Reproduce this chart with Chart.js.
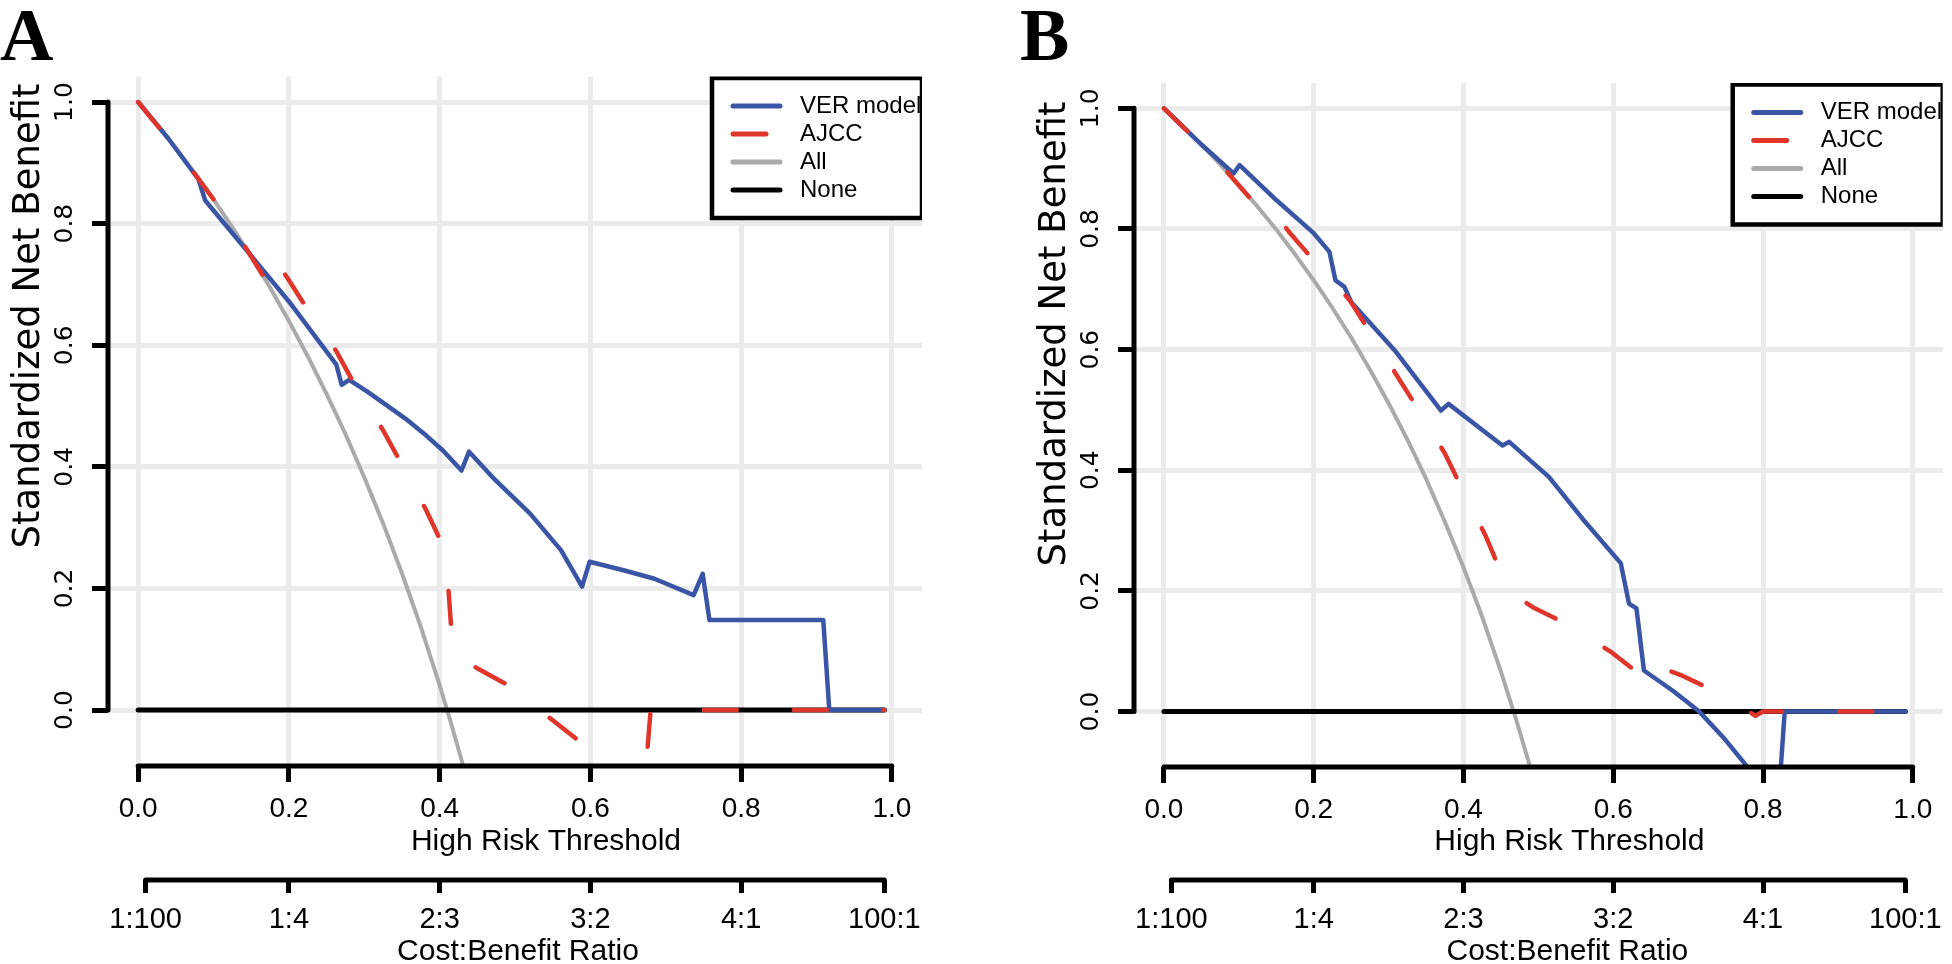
<!DOCTYPE html>
<html>
<head>
<meta charset="utf-8">
<title>Decision curves - VER model vs AJCC</title>
<script src="https://cdn.jsdelivr.net/npm/chart.js@4.4.1/dist/chart.umd.min.js"></script>
<style>
  body { margin: 0; background: #fff; }
  #wrap { position: relative; width: 1952px; height: 964px; }
  canvas { position: absolute; top: 0; }
  #chartA { left: 0; }
  #chartB { left: 976px; }
</style>
</head>
<body>
<div id="wrap">
  <canvas id="chartA" width="976" height="964"></canvas>
  <canvas id="chartB" width="976" height="964"></canvas>
</div>
<script>
// Panel A
const verA_t   = [0, 0.04, 0.08, 0.089, 0.14, 0.2, 0.263, 0.27, 0.28, 0.305, 0.329, 0.355, 0.379, 0.405, 0.429, 0.439, 0.474, 0.52, 0.561, 0.589, 0.599, 0.644, 0.685, 0.737, 0.749, 0.758, 0.909, 0.917, 0.99];
const verA_nb  = [1, 0.94, 0.873, 0.838, 0.762, 0.672, 0.568, 0.535, 0.543, 0.523, 0.502, 0.479, 0.455, 0.426, 0.394, 0.425, 0.378, 0.323, 0.263, 0.203, 0.244, 0.230, 0.216, 0.189, 0.224, 0.148, 0.148, 0, 0];
const ajccA_t  = [0, 0.05, 0.1, 0.143, 0.168, 0.183, 0.19, 0.199, 0.222, 0.263, 0.286, 0.325, 0.348, 0.382, 0.403, 0.408, 0.418, 0.454, 0.495, 0.547, 0.586, 0.62, 0.65, 0.67, 0.68, 0.99];
const ajccA_nb = [1, 0.924, 0.84, 0.76, 0.71, 0.683, 0.725, 0.709, 0.664, 0.59, 0.538, 0.46, 0.408, 0.329, 0.274, 0.262, 0.09, 0.066, 0.038, -0.014, -0.052, -0.09, -0.125, -0.15, 0, 0];
const allA_t   = [0, 0.025, 0.05, 0.075, 0.1, 0.125, 0.15, 0.175, 0.2, 0.225, 0.25, 0.275, 0.3, 0.325, 0.35, 0.375, 0.4, 0.415, 0.435];
const allA_nb  = [1, 0.963, 0.924, 0.883, 0.84, 0.794, 0.746, 0.695, 0.64, 0.582, 0.52, 0.454, 0.383, 0.307, 0.225, 0.137, 0.041, -0.021, -0.108];

// Panel B
const verB_t   = [0, 0.05, 0.093, 0.101, 0.15, 0.2, 0.221, 0.229, 0.241, 0.25, 0.308, 0.37, 0.38, 0.452, 0.461, 0.514, 0.56, 0.61, 0.621, 0.631, 0.641, 0.68, 0.714, 0.747, 0.78, 0.8, 0.82, 0.829, 0.99];
const verB_nb  = [1, 0.94, 0.892, 0.906, 0.848, 0.793, 0.762, 0.715, 0.704, 0.679, 0.599, 0.499, 0.51, 0.441, 0.447, 0.389, 0.318, 0.246, 0.179, 0.171, 0.068, 0.034, 0.001, -0.043, -0.093, -0.125, -0.16, 0, 0];
const ajccB_t  = [0, 0.05, 0.084, 0.117, 0.13, 0.14, 0.167, 0.2, 0.248, 0.275, 0.312, 0.339, 0.375, 0.394, 0.43, 0.449, 0.46, 0.4925, 0.536, 0.598, 0.635, 0.655, 0.665, 0.693, 0.737, 0.79, 0.8, 0.99];
const ajccB_nb = [1, 0.94, 0.895, 0.848, 0.83, 0.84, 0.795, 0.748, 0.682, 0.629, 0.555, 0.502, 0.428, 0.38, 0.29, 0.234, 0.2, 0.173, 0.146, 0.098, 0.062, 0.045, 0.072, 0.059, 0.033, -0.007, 0, 0];
const allB_t   = [0, 0.025, 0.05, 0.075, 0.1, 0.125, 0.15, 0.175, 0.2, 0.225, 0.25, 0.275, 0.3, 0.325, 0.35, 0.375, 0.4, 0.425, 0.45, 0.47, 0.49];
const allB_nb  = [1, 0.971, 0.94, 0.907, 0.873, 0.837, 0.799, 0.758, 0.715, 0.669, 0.62, 0.567, 0.511, 0.451, 0.386, 0.315, 0.239, 0.157, 0.066, -0.012, -0.096];

const none_t  = [0, 0.99];
const none_nb = [0, 0];

const thresholdTicks = [0, 0.2, 0.4, 0.6, 0.8, 1.0];
const benefitTicks   = [0, 0.2, 0.4, 0.6, 0.8, 1.0];
const ratioTicks     = [0.0099, 0.2, 0.4, 0.6, 0.8, 0.99];
const ratioLabels    = ['1:100', '1:4', '2:3', '3:2', '4:1', '100:1'];

const BLUE = '#3a55a5';
const RED = '#e0352b';
const GREY = '#aaaaaa';
const GRID = '#ebebeb';

Chart.defaults.font.family = '"Liberation Sans", Arial, sans-serif';
Chart.defaults.color = '#000';

const pts = (t, nb) => t.map((v, i) => ({ x: v, y: nb[i] }));

function seg(ctx, x1, y1, x2, y2) {
  ctx.beginPath();
  ctx.moveTo(x1, y1);
  ctx.lineTo(x2, y2);
  ctx.stroke();
}

// base-R look: partial axis lines, titles, boxed legend, panel letter
const rDecor = {
  id: 'rDecor',
  afterDraw(chart, args, o) {
    const { ctx, chartArea: a, scales: { x, x2, y } } = chart;
    ctx.save();
    ctx.strokeStyle = '#000';
    ctx.lineWidth = 5;
    ctx.lineCap = 'round';
    seg(ctx, a.left, y.getPixelForValue(0), a.left, y.getPixelForValue(1));
    seg(ctx, x.getPixelForValue(0), a.bottom, x.getPixelForValue(1), a.bottom);
    seg(ctx, x2.getPixelForValue(ratioTicks[0]), x2.top, x2.getPixelForValue(ratioTicks[ratioTicks.length - 1]), x2.top);

    ctx.fillStyle = '#000';
    ctx.textAlign = 'center';
    ctx.textBaseline = 'alphabetic';
    ctx.font = '30px "Liberation Sans"';
    ctx.fillText('High Risk Threshold', x.getPixelForValue(0.5) + o.xShift, 850);
    ctx.fillText('Cost:Benefit Ratio', x.getPixelForValue(0.5) + o.x2Shift, 960);

    ctx.save();
    ctx.translate(a.left - 79, o.yTitleY);
    ctx.rotate(-Math.PI / 2);
    ctx.textBaseline = 'middle';
    ctx.font = '37px "DejaVu Sans"';
    ctx.fillText('Standardized Net Benefit', 0, 0);
    ctx.restore();

    ctx.textAlign = 'left';
    ctx.font = 'bold 74px "Liberation Serif"';
    ctx.fillText(o.letter, o.letterX, 60);

    // legend sits in the top right corner, clipped by the plot region
    ctx.save();
    ctx.beginPath();
    ctx.rect(a.left, a.top, a.right - a.left, a.bottom - a.top);
    ctx.clip();
    const bx = a.right - 210, by = a.top + 1.5;
    ctx.fillStyle = '#fff';
    ctx.fillRect(bx, by, 210, 140);
    ctx.lineWidth = 4.5;
    ctx.strokeRect(bx, by, 210, 140);
    ctx.font = '24px "Liberation Sans"';
    ctx.textBaseline = 'middle';
    chart.data.datasets.forEach((ds, i) => {
      const ly = by + 28 + i * 28;
      ctx.strokeStyle = ds.borderColor;
      ctx.lineWidth = 5;
      ctx.setLineDash(ds.borderDash || []);
      seg(ctx, bx + 21, ly, bx + 68, ly);
      ctx.setLineDash([]);
      ctx.fillStyle = '#000';
      ctx.fillText(ds.label, bx + 88, ly);
    });
    ctx.restore();
    ctx.restore();
  }
};

function drawPanel(id, box, deco, ver, ajcc, all) {
  const W = 976, H = 964;
  return new Chart(document.getElementById(id), {
    type: 'line',
    data: {
      datasets: [
        { label: 'VER model', data: ver, borderColor: BLUE, borderWidth: 4.5, order: 1 },
        { label: 'AJCC', data: ajcc, borderColor: RED, borderWidth: 4.5, borderDash: [33, 57], order: 0 },
        { label: 'All', data: all, borderColor: GREY, borderWidth: 4, order: 3 },
        { label: 'None', data: pts(none_t, none_nb), borderColor: '#000', borderWidth: 5, order: 2 }
      ]
    },
    options: {
      responsive: false,
      animation: false,
      events: [],
      elements: {
        point: { radius: 0 },
        line: { tension: 0, fill: false, borderCapStyle: 'round', borderJoinStyle: 'round' }
      },
      layout: { padding: { left: 0, top: box.top, right: W - box.right, bottom: 0 } },
      scales: {
        x: {
          type: 'linear', min: -0.04, max: 1.04,
          afterBuildTicks: s => { s.ticks = thresholdTicks.map(v => ({ value: v })); },
          afterFit: s => { s.height = 880 - box.bottom; },
          border: { display: false },
          grid: { color: GRID, lineWidth: 5, tickColor: '#000', tickWidth: 5, tickLength: 16 },
          ticks: { autoSkip: false, maxRotation: 0, padding: 10, font: { size: 28 }, callback: v => v.toFixed(1) }
        },
        x2: {
          type: 'linear', position: 'bottom', weight: 1, min: -0.04, max: 1.04,
          afterBuildTicks: s => { s.ticks = ratioTicks.map(v => ({ value: v })); },
          afterFit: s => { s.height = H - 880; },
          border: { display: false },
          grid: { drawOnChartArea: false, tickColor: '#000', tickWidth: 5, tickLength: 13 },
          ticks: { autoSkip: false, maxRotation: 0, padding: 10, font: { size: 29 }, callback: (v, i) => ratioLabels[i] }
        },
        y: {
          type: 'linear', min: -0.092, max: 1.042,
          afterBuildTicks: s => { s.ticks = benefitTicks.map(v => ({ value: v })); },
          afterFit: s => { s.width = box.left; },
          border: { display: false },
          grid: { color: GRID, lineWidth: 5, tickColor: '#000', tickWidth: 5, tickLength: 16 },
          ticks: {
            autoSkip: false, minRotation: 90, maxRotation: 90, crossAlign: 'center', padding: 7,
            font: { family: '"DejaVu Sans"', size: 25 }, callback: v => v.toFixed(1)
          }
        }
      },
      plugins: {
        legend: { display: false },
        tooltip: { enabled: false },
        rDecor: deco
      }
    },
    plugins: [rDecor]
  });
}

drawPanel('chartA',
  { left: 108, top: 76.5, right: 922, bottom: 766 },
  { letter: 'A', letterX: 0, yTitleY: 316, xShift: 31, x2Shift: 3 },
  pts(verA_t, verA_nb), pts(ajccA_t, ajccA_nb), pts(allA_t, allA_nb));

drawPanel('chartB',
  { left: 158, top: 83, right: 968, bottom: 767 },
  { letter: 'B', letterX: 44, yTitleY: 334, xShift: 31, x2Shift: 29 },
  pts(verB_t, verB_nb), pts(ajccB_t, ajccB_nb), pts(allB_t, allB_nb));
</script>
</body>
</html>
